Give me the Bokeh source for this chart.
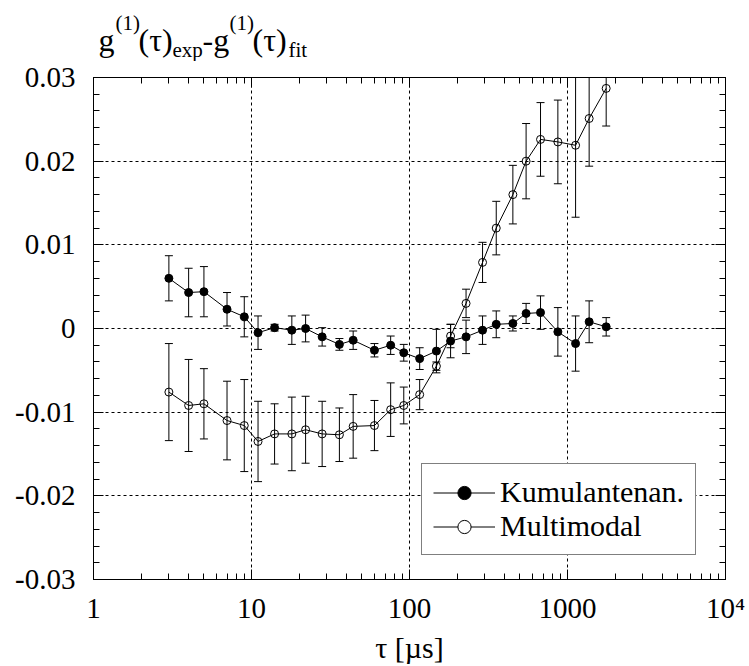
from bokeh.plotting import figure
from bokeh.layouts import column
from bokeh.models import (ColumnDataSource, Whisker, TeeHead, FixedTicker, LogAxis,
                          LinearAxis, Label, Legend, LegendItem, Range1d)
from bokeh.embed import file_html
from bokeh.resources import INLINE

# ---- data ----
tau = [3, 4, 5, 7, 9, 11, 14, 18, 22, 28, 36, 44, 60, 76, 92, 116, 148, 182,
       228, 290, 354, 451, 547, 675, 869, 1125, 1371, 1757]
kum_y = [0.0060, 0.0043, 0.0044, 0.0023, 0.0014, -0.0005, 0.0001, -0.0002,
         0.0000, -0.0010, -0.0019, -0.0014, -0.0026, -0.0020, -0.0029, -0.0036,
         -0.0027, -0.0015, -0.0010, -0.0002, 0.0005, 0.0006, 0.0018, 0.0019,
         -0.0004, -0.0018, 0.0008, 0.0002]
kum_err = [0.0027, 0.0029, 0.0030, 0.0020, 0.0024, 0.0020, 0.0004, 0.0017,
           0.0016, 0.0011, 0.0007, 0.0011, 0.0008, 0.0011, 0.0010, 0.0013,
           0.0026, 0.0020, 0.0020, 0.0017, 0.0016, 0.0009, 0.0012, 0.0020,
           0.0029, 0.0033, 0.0025, 0.0011]
multi_y = [-0.0076, -0.0092, -0.0090, -0.0110, -0.0116, -0.0135, -0.0126,
           -0.0126, -0.0121, -0.0126, -0.0127, -0.0117, -0.0116, -0.0097,
           -0.0092, -0.0079, -0.0045, -0.0009, 0.0030, 0.0079, 0.0120, 0.0160,
           0.0200, 0.0226, 0.0223, 0.0219, 0.0251, 0.0287]
multi_err = [0.0058, 0.0055, 0.0042, 0.0047, 0.0055, 0.0048, 0.0036, 0.0044,
             0.0040, 0.0039, 0.0032, 0.0038, 0.0030, 0.0032, 0.0022, 0.0018,
             0.0005, 0.0014, 0.0017, 0.0024, 0.0032, 0.0035, 0.0045, 0.0044,
             0.0050, 0.0086, 0.0057, 0.0045]
series_names = ["Kumulantenan.", "Multimodal"]

x_ticks = [1, 10, 100, 1000, 10000]
x_tick_labels = ["1", "10", "100", "1000", "10\u2074"]
y_ticks = [-0.03, -0.02, -0.01, 0.0, 0.01, 0.02, 0.03]
y_tick_labels = ["-0.03", "-0.02", "-0.01", "0", "0.01", "0.02", "0.03"]
x_title = "τ [µs]"
y_title_parts = ["g", "(1)", "(τ)", "exp", "-g", "(1)", "(τ)", "fit"]

FONT = "'Liberation Serif', 'Times New Roman', serif"
W, H = 749, 666
BL, BR = 93, 24          # left / right borders shared by both rows

x_minor = [m * 10 ** k for k in range(0, 4) for m in range(2, 10)]
y_minor = [round(-0.03 + 0.002 * i, 4) for i in range(31)]

# ---------- title strip (holds the y-axis title with sub/superscripts) ----------
TH = 61
t = figure(width=W, height=TH, x_range=Range1d(BL, W - BR), y_range=Range1d(0, TH),
           output_backend="svg", toolbar_location=None,
           x_axis_location=None, y_axis_location=None,
           min_border=0, min_border_left=BL, min_border_right=BR,
           min_border_top=0, min_border_bottom=0)
t.outline_line_color = None
t.xgrid.visible = False
t.ygrid.visible = False
t.background_fill_color = "white"
t.border_fill_color = "white"

# (font size, baseline height in strip) for main text / superscript / subscript
styles = [(32, 22), (21, 39), (32, 22), (21, 12), (32, 22), (21, 39), (32, 22), (21, 12)]
x_pos = [98, 115, 138, 172, 202, 229, 252, 288]
for txt, (fs, yb), xp in zip(y_title_parts, styles, x_pos):
    t.add_layout(Label(x=xp, y=yb, text=txt, text_font=FONT,
                       text_font_size=f"{fs}px", text_align="left",
                       text_baseline="alphabetic", text_color="black"))

# ---------- main plot ----------
p = figure(width=W, height=H - TH, x_axis_type="log",
           x_range=Range1d(1, 10000), y_range=Range1d(-0.03, 0.03),
           output_backend="svg", toolbar_location=None,
           min_border_left=BL, min_border_right=BR, min_border_top=77 - TH,
           min_border_bottom=87)
p.background_fill_color = "white"
p.border_fill_color = "white"
p.outline_line_color = "black"
p.outline_line_width = 1

xt = FixedTicker(ticks=x_ticks, minor_ticks=x_minor)
yt = FixedTicker(ticks=y_ticks, minor_ticks=y_minor)


def style_axis(ax):
    ax.axis_line_color = "black"
    ax.major_tick_line_color = "black"
    ax.minor_tick_line_color = "black"
    ax.major_tick_in = 10
    ax.major_tick_out = 0
    ax.minor_tick_in = 6
    ax.minor_tick_out = 0
    ax.major_label_text_font = FONT
    ax.major_label_text_font_size = "29px"
    ax.major_label_text_color = "black"


xa = p.xaxis[0]
xa.ticker = xt
style_axis(xa)
xa.major_label_overrides = {tk: lb for tk, lb in zip(x_ticks, x_tick_labels)}
xa.major_label_standoff = 12
xa.axis_label = x_title
xa.axis_label_text_font = FONT
xa.axis_label_text_font_size = "30px"
xa.axis_label_text_font_style = "normal"
xa.axis_label_text_color = "black"
xa.axis_label_standoff = 4

ya = p.yaxis[0]
ya.ticker = yt
style_axis(ya)
ya.major_label_overrides = {tk: lb for tk, lb in zip(y_ticks, y_tick_labels)}
ya.major_label_standoff = 18

top = LogAxis(ticker=xt)
style_axis(top)
top.major_label_text_font_size = "1px"
top.major_label_text_color = None
top.major_label_standoff = 0
p.add_layout(top, "above")

right = LinearAxis(ticker=yt)
style_axis(right)
right.major_label_text_font_size = "1px"
right.major_label_text_color = None
right.major_label_standoff = 0
p.add_layout(right, "right")

p.xgrid.ticker = xt
p.ygrid.ticker = yt
for g in (p.xgrid[0], p.ygrid[0]):
    g.grid_line_color = "black"
    g.grid_line_dash = "3 3"
    g.grid_line_width = 1
    g.minor_grid_line_color = None

src_k = ColumnDataSource(dict(x=tau, y=kum_y,
                              lo=[v - e for v, e in zip(kum_y, kum_err)],
                              hi=[v + e for v, e in zip(kum_y, kum_err)]))
src_m = ColumnDataSource(dict(x=tau, y=multi_y,
                              lo=[v - e for v, e in zip(multi_y, multi_err)],
                              hi=[v + e for v, e in zip(multi_y, multi_err)]))

for src in (src_k, src_m):
    w = Whisker(source=src, base="x", lower="lo", upper="hi",
                line_color="black", line_width=1,
                upper_head=TeeHead(size=8, line_color="black", line_width=1),
                lower_head=TeeHead(size=8, line_color="black", line_width=1))
    p.add_layout(w)

p.line("x", "y", source=src_k, line_color="black", line_width=1)
p.line("x", "y", source=src_m, line_color="black", line_width=1)
p.scatter("x", "y", source=src_k, size=8, marker="circle",
          fill_color="black", line_color="black")
p.scatter("x", "y", source=src_m, size=8, marker="circle",
          fill_color=None, line_color="black", line_width=1)

# legend (renderers outside the visible range so legend markers can be smaller)
leg_src = ColumnDataSource(dict(x=[0.01], y=[1.0]))
lk = p.line("x", "y", source=leg_src, line_color="black", line_width=1)
sk = p.scatter("x", "y", source=leg_src, size=7, marker="circle",
               fill_color="black", line_color="black")
lm = p.line("x", "y", source=leg_src, line_color="black", line_width=1)
sm = p.scatter("x", "y", source=leg_src, size=7, marker="circle",
               fill_color="white", line_color="black")
legend = Legend(items=[LegendItem(label=series_names[0], renderers=[lk, sk]),
                       LegendItem(label=series_names[1], renderers=[lm, sm])],
                location=(328, 24), margin=0, padding=11, spacing=0,
                glyph_width=62, glyph_height=33, label_height=33,
                label_standoff=5, label_text_font=FONT,
                label_text_font_size="30px", label_text_color="black",
                border_line_color="black", border_line_width=1,
                background_fill_color="white", background_fill_alpha=1)
p.add_layout(legend, "center")

layout = column(t, p, spacing=0)
open("out.html", "w").write(file_html(layout, INLINE))
